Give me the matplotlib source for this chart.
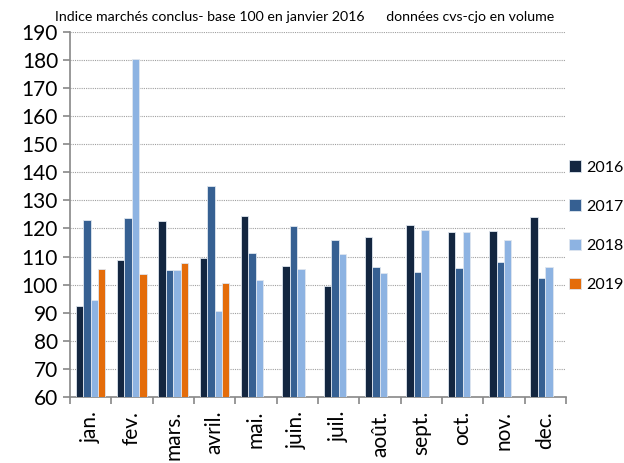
import numpy as np
import matplotlib.pyplot as plt

plt.rcParams['font.family'] = ['Lato', 'DejaVu Sans']

mois = ["jan.", "fev.", "mars.", "avril.", "mai.", "juin.", "juil.",
        "août.", "sept.", "oct.", "nov.", "dec."]
v2016 = [92.3, 108.7, 122.6, 109.3, 124.4, 106.7, 99.5, 116.9, 121.3, 118.6, 119.0, 124.2]
v2017 = [123.1, 123.8, 105.3, 135.2, 111.2, 120.7, 116.0, 106.3, 104.6, 105.9, 108.2, 102.4]
v2018 = [94.5, 180.2, 105.3, 90.5, 101.8, 105.6, 110.8, 104.0, 119.3, 118.9, 115.8, 106.2]
v2019 = [105.7, 103.9, 107.7, 100.7]

series = [("2016", v2016, "#132640"), ("2017", v2017, "#366092"),
          ("2018", v2018, "#8DB3E2"), ("2019", v2019, "#E46C0A")]

fig = plt.figure(figsize=(6.24, 4.63), dpi=100)
ax = fig.add_axes([0.112, 0.1425, 0.795, 0.789])

x = np.arange(len(mois))
w = 0.18
for i, (lab, vals, col) in enumerate(series):
    xs = x[:len(vals)] + (i - 1.5) * w
    ax.bar(xs, np.array(vals) - 60, width=w, bottom=60, color=col,
           edgecolor="#dfe6ef", linewidth=0.6, label=lab, zorder=3)

ax.set_ylim(60, 190)
ax.set_xlim(-0.5, len(mois) - 0.5)
ax.set_yticks(range(60, 191, 10))
ax.yaxis.grid(True, linestyle=(0, (1, 1)), color="#a0a0a0", linewidth=0.8, zorder=0)
ax.tick_params(axis='y', labelsize=15, colors="#888888", labelcolor="black",
               length=5, width=1.2)

ax.set_xticks(x)
ax.set_xticklabels(mois, rotation=90, fontsize=15, va='top', ha='center')
ax.set_xticks(np.arange(-0.5, len(mois)), minor=True)
ax.tick_params(axis='x', which='major', length=0, pad=10)
ax.tick_params(axis='x', which='minor', length=5, width=1.2, colors="#888888")

for s in ["top", "right"]:
    ax.spines[s].set_visible(False)
for s in ["left", "bottom"]:
    ax.spines[s].set_color("#888888")
    ax.spines[s].set_linewidth(1.2)

fig.text(0.088, 0.955, "Indice marchés conclus- base 100 en janvier 2016      données cvs-cjo en volume",
         fontsize=10.2, ha='left', va='baseline')

fig.legend(loc='upper left', bbox_to_anchor=(0.912, 0.654), frameon=False,
           fontsize=11.5, handlelength=0.75, handleheight=0.75, labelspacing=1.55,
           handletextpad=0.3, borderaxespad=0, borderpad=0)

fig.savefig("out.png", dpi=100)
